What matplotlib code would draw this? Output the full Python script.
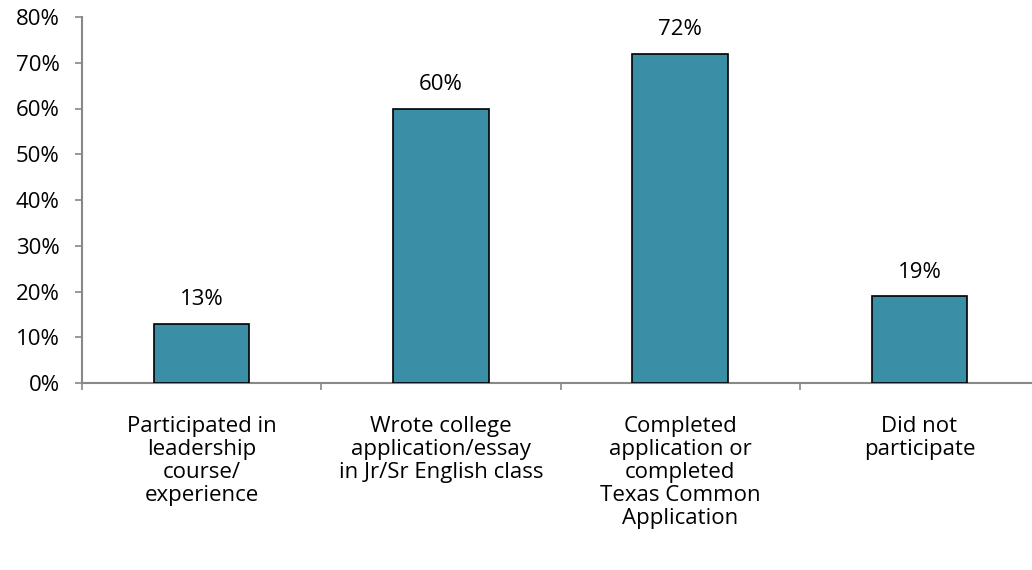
import matplotlib.pyplot as plt
import numpy as np

categories = [
    "Participated in\nleadership\ncourse/\nexperience",
    "Wrote college\napplication/essay\nin Jr/Sr English class",
    "Completed\napplication or\ncompleted\nTexas Common\nApplication",
    "Did not\nparticipate",
]
values = [13, 60, 72, 19]
y_ticks = [0, 10, 20, 30, 40, 50, 60, 70, 80]

plt.rcParams['font.family'] = ['Open Sans', 'DejaVu Sans']
fs = 16

fig = plt.figure(figsize=(10.32, 5.70), dpi=100)
# axes runs a little past the right edge, like the original
ax = fig.add_axes([82 / 1032, 187 / 570, 957 / 1032, 366 / 570])

x = np.arange(len(values))
ax.bar(x, values, width=0.4, color='#3A8FA7', edgecolor='black', linewidth=1.2, zorder=3)
for xi, v in zip(x, values):
    ax.text(xi, v + 4.0, f"{v}%", ha='center', va='baseline', fontsize=fs)

ax.set_xlim(-0.5, 3.5)
ax.set_ylim(0, 80)
ax.set_yticks(y_ticks)
ax.set_yticklabels([f"{t}%" for t in y_ticks], fontsize=fs)

# category ticks sit between bars
ax.set_xticks(np.arange(-0.5, 4.0, 1.0))
ax.set_xticklabels([])
ax.tick_params(axis='x', length=5, color='#888888', width=1.2)
ax.tick_params(axis='y', length=5, color='#888888', width=1.2, pad=11)
for xi, lab in zip(x, categories):
    ax.text(xi, -7.3, lab, ha='center', va='top', fontsize=fs,
            linespacing=1.12)

for s in ['top', 'right']:
    ax.spines[s].set_visible(False)
for s in ['left', 'bottom']:
    ax.spines[s].set_color('#888888')
    ax.spines[s].set_linewidth(1.5)

fig.savefig('out.png', dpi=100)
